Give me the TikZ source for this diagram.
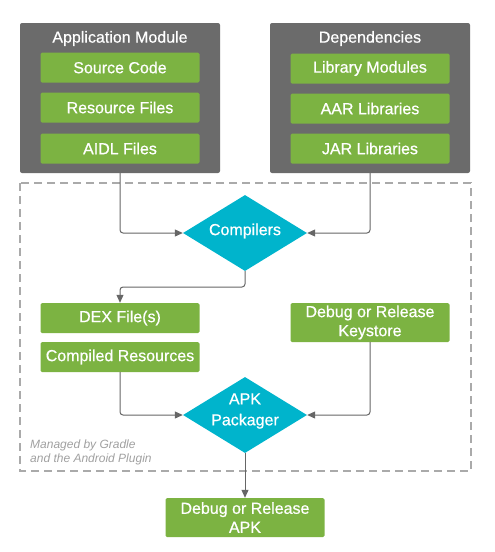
\documentclass[tikz,border=0pt]{standalone}
\usepackage{fontspec}
\setmainfont{Liberation Sans}
\newfontfamily\medfont{Liberation Sans}[FakeBold=0.6]
\usetikzlibrary{arrows.meta,shapes.geometric}
\definecolor{modgray}{HTML}{6B6B6B}
\definecolor{boxgreen}{HTML}{7CB342}
\definecolor{diacyan}{HTML}{00B4CC}
\definecolor{linegray}{HTML}{666666}
\definecolor{dashgray}{HTML}{AAAAAA}
\definecolor{notegray}{HTML}{A0A0A0}
\tikzset{
  modbox/.style={fill=modgray, draw=none, rounded corners=2pt, minimum width=200pt, minimum height=150pt, inner sep=0pt},
  modtitle/.style={text=white, font=\medfont\fontsize{16}{19}\selectfont, inner sep=0pt},
  greenbox/.style={fill=boxgreen, draw=none, rounded corners=1.5pt, minimum width=159pt, minimum height=30pt, inner sep=0pt, text=white, font=\medfont\fontsize{16}{19}\selectfont, align=center},
  tallbox/.style={greenbox, minimum height=39pt},
  diabox/.style={diamond, fill=diacyan, draw=none, minimum width=124pt, minimum height=76pt, inner sep=0pt},
  diatext/.style={text=white, font=\medfont\fontsize{16}{21}\selectfont, align=center, inner sep=0pt},
  flow/.style={draw=linegray, line width=1pt, rounded corners=3pt, -{Triangle[length=8pt,width=7pt]}},
  region/.style={draw=dashgray, line width=2pt, dash pattern=on 8pt off 5pt},
  note/.style={text=notegray, font=\fontsize{12}{14}\selectfont\itshape, align=left, inner sep=0pt}
}
\begin{document}
\begin{tikzpicture}[x=1pt,y=-1pt]
\useasboundingbox (0,0) rectangle (495,552);
% dashed region
\draw[region] (20,183) rectangle (471,471);
% modules
\node[modbox] (app) at (120,98) {};
\node[modtitle] (apptitle) at (120,38.5) {Application Module};
\node[greenbox] (src) at (120,67.5) {Source Code};
\node[greenbox] (res) at (120,107.5) {Resource Files};
\node[greenbox] (aidl) at (120,148.5) {AIDL Files};
\node[modbox] (deps) at (370,98) {};
\node[modtitle] (depstitle) at (370,38.5) {Dependencies};
\node[greenbox] (lib) at (370,68.5) {Library Modules};
\node[greenbox] (aar) at (370,108.5) {AAR Libraries};
\node[greenbox] (jar) at (370,148.5) {JAR Libraries};
% compilers
\node[diabox] (comp) at (245,233) {};
\node[diatext] (comptext) at (245,231) {Compilers};
% intermediate
\node[greenbox] (dex) at (120,318) {DEX File(s)};
\node[greenbox] (cres) at (120,357) {Compiled Resources};
\node[tallbox] (keys) at (370,322.5) {Debug or Release\\Keystore};
% packager
\node[diabox] (apk) at (245,415) {};
\node[diatext] (apktext) at (245,411) {APK\\Packager};
% output
\node[tallbox] (out) at (245,517.5) {Debug or Release\\APK};
% note
\node[note, anchor=north west] (note) at (30,440) {Managed by Gradle\\and the Android Plugin};
% connectors
\coordinate (bend) at (120,287);
\draw[flow] (app.south) |- (comp.west);
\draw[flow] (deps.south) |- (comp.east);
\draw[flow] (comp.south) |- (bend) -- (dex.north);
\draw[flow] (cres.south) |- (apk.west);
\draw[flow] (keys.south) |- (apk.east);
\draw[flow] (apk.south) -- (out.north);
\end{tikzpicture}
\end{document}
